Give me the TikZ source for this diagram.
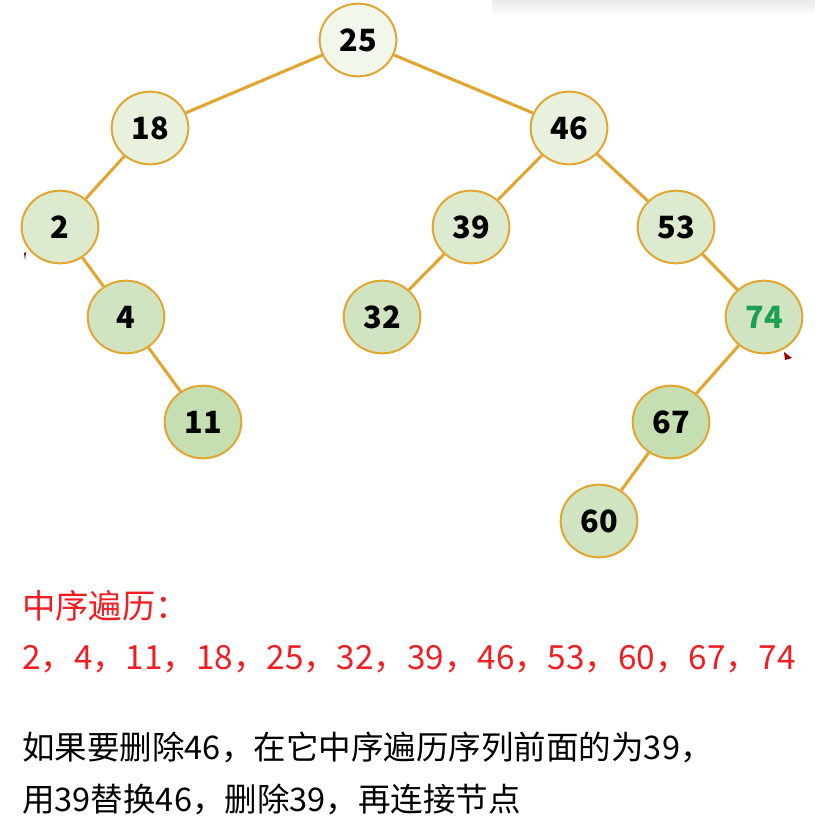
\documentclass[tikz,border=0pt]{standalone}
\usepackage{fontspec}
\setmainfont{Noto Sans CJK SC}
\usepackage{tikz}
\usetikzlibrary{shapes.geometric}
\usepackage{xcolor}

\definecolor{bordeOro}{RGB}{226,166,48}
\definecolor{verdeA}{RGB}{242,247,235}
\definecolor{verdeB}{RGB}{231,241,222}
\definecolor{verdeC}{RGB}{220,235,208}
\definecolor{verdeD}{RGB}{208,228,193}
\definecolor{verdeE}{RGB}{197,223,179}
\definecolor{verdeNum}{RGB}{26,160,80}
\definecolor{rojoTxt}{RGB}{240,30,35}

\begin{document}
\begin{tikzpicture}[
    x=0.75pt, y=-0.75pt,
    nodo/.style={ellipse, draw=bordeOro, line width=1.5pt, minimum width=57.5pt, minimum height=54.5pt, inner sep=0pt, font=\fontsize{23}{25}\selectfont\bfseries},
    rama/.style={draw=bordeOro, line width=2.3pt},
    texto/.style={anchor=base west, inner sep=0pt, font=\fontsize{24.4}{28}\selectfont},
    textoRojo/.style={texto, text=rojoTxt, font=\fontsize{25}{28}\selectfont}
]
\useasboundingbox (0,0) rectangle (815,832);

% sombra de la ventana arriba a la derecha
\shade[top color=black!12, bottom color=white, rounded corners=6pt] (492,-8) rectangle (815,16);

% Nodos del arbol
\node[nodo, fill=verdeA] (n25) at (358,40) {25};
\node[nodo, fill=verdeB] (n18) at (150,128) {18};
\node[nodo, fill=verdeB] (n46) at (569,128) {46};
\node[nodo, fill=verdeC] (n2) at (60,227) {2};
\node[nodo, fill=verdeC] (n39) at (471,227) {39};
\node[nodo, fill=verdeC] (n53) at (676,227) {53};
\node[nodo, fill=verdeD] (n4) at (126,317) {4};
\node[nodo, fill=verdeD] (n32) at (382,317) {32};
\node[nodo, fill=verdeD, text=verdeNum] (n74) at (764,317) {74};
\node[nodo, fill=verdeE] (n11) at (203,422) {11};
\node[nodo, fill=verdeE] (n67) at (671,422) {67};
\node[nodo, fill=verdeD] (n60) at (599,521) {60};

% Ramas
\draw[rama] (n25) -- (n18);
\draw[rama] (n25) -- (n46);
\draw[rama] (n18) -- (n2);
\draw[rama] (n2) -- (n4);
\draw[rama] (n4) -- (n11);
\draw[rama] (n46) -- (n39);
\draw[rama] (n46) -- (n53);
\draw[rama] (n39) -- (n32);
\draw[rama] (n53) -- (n74);
\draw[rama] (n74) -- (n67);
\draw[rama] (n67) -- (n60);

% marcas rojas
\fill[red!60!black] (24,253) -- (26,252) -- (25,260) -- cycle;
\fill[red!60!black] (784,352) -- (792,358) -- (785,360) -- cycle;

% Textos
\node[textoRojo] (titulo) at (22,618) {中序遍历：};
\node[textoRojo] (orden) at (22,669) {2，4，11，18，25，32，39，46，53，60，67，74};
\node[texto] (linea1) at (22,759) {如果要删除46，在它中序遍历序列前面的为39，};
\node[texto] (linea2) at (22,811) {用39替换46，删除39，再连接节点};

\end{tikzpicture}
\end{document}
